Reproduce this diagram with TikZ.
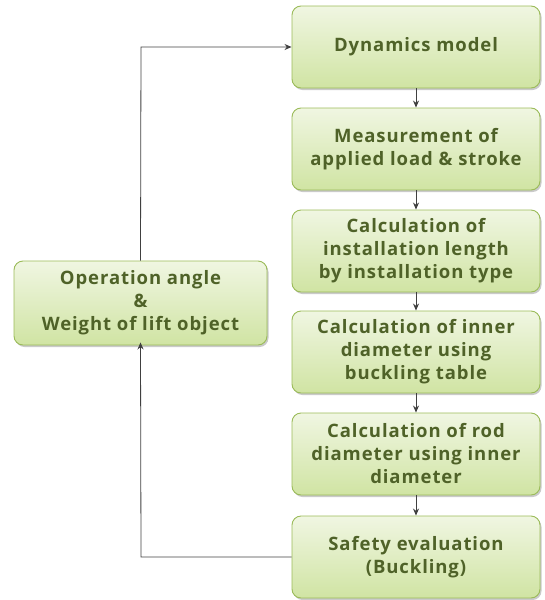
\documentclass[tikz,border=0pt]{standalone}
\usepackage{fontspec}
\setmainfont{Open Sans}[BoldFont={Open Sans Bold},BoldFeatures={LetterSpace=5}]
\usetikzlibrary{shadows,arrows.meta}
\definecolor{txt}{RGB}{79,98,40}
\definecolor{bord}{RGB}{155,187,89}
\definecolor{ftop}{RGB}{240,246,226}
\definecolor{fbot}{RGB}{208,228,163}
\definecolor{lin}{RGB}{64,64,64}
\tikzset{
  box/.style={draw=bord, line width=0.9pt, rounded corners=9pt,
    top color=ftop, bottom color=fbot, align=center,
    font=\fontsize{18.5}{23}\selectfont\bfseries, text=txt,
    drop shadow={shadow xshift=1.5pt, shadow yshift=-2pt, fill=black!35, opacity=0.6},
    inner sep=0pt},
  rbox/.style={box, minimum width=248pt, minimum height=82pt},
  conn/.style={draw=lin, line width=0.8pt, -{Stealth[length=7pt,width=6pt]}},
}
\begin{document}
\begin{tikzpicture}[x=1pt,y=-1pt]
\useasboundingbox (0,0) rectangle (544,600);
\node[rbox] (b1) at (416,47) {Dynamics model};
\node[rbox] (b2) at (416,149) {Measurement of\\applied load \& stroke};
\node[rbox] (b3) at (416,251) {Calculation of\\installation length\\by installation type};
\node[rbox] (b4) at (416,352) {Calculation of inner\\diameter using\\buckling table};
\node[rbox] (b5) at (416,454) {Calculation of rod\\diameter using inner\\diameter};
\node[rbox] (b6) at (416,557) {Safety evaluation\\(Buckling)};
\node[box, minimum width=253pt, minimum height=84pt] (l) at (140.5,303) {Operation angle\\\&\\Weight of lift object};
\draw[conn] (b1) -- (b2);
\draw[conn] (b2) -- (b3);
\draw[conn] (b3) -- (b4);
\draw[conn] (b4) -- (b5);
\draw[conn] (b5) -- (b6);
\coordinate (c1) at (141,557);
\coordinate (c2) at (141,47);
\draw[conn] (b6.west) -- (c1) -- ([yshift=3pt]l.south);
\draw[conn] (l.north) -- (c2) -- (b1.west);
\end{tikzpicture}
\end{document}
